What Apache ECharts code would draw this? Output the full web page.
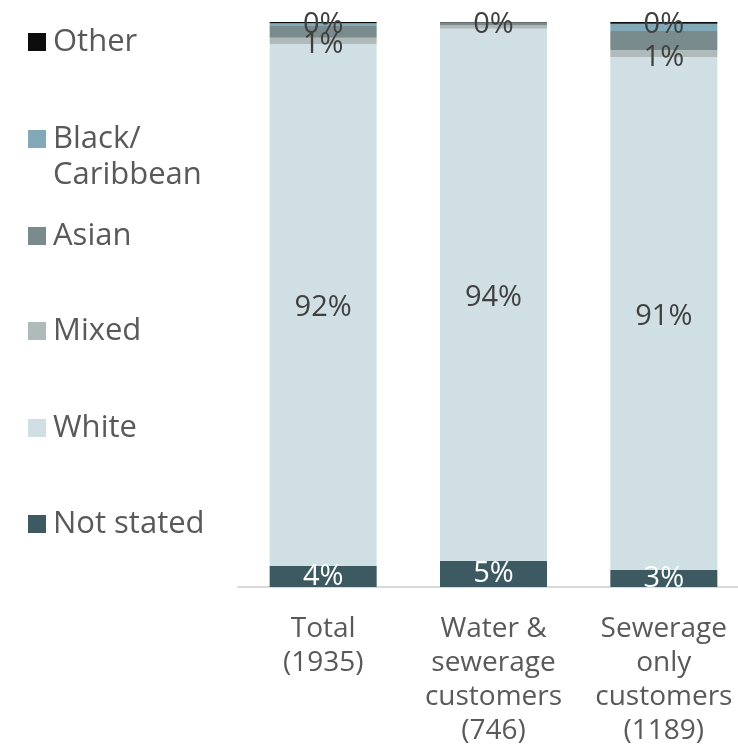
<!DOCTYPE html>
<html>
<head>
<meta charset="utf-8">
<script src="https://cdn.jsdelivr.net/npm/echarts@6/dist/echarts.min.js"></script>
<style>
  html, body { margin: 0; padding: 0; background: #fff; }
  #chart { width: 738px; height: 750px; }
</style>
</head>
<body>
<div id="chart"></div>
<script>
// categories (x axis)
const categories = ['Total\n(1935)', 'Water &\nsewerage\ncustomers\n(746)', 'Sewerage\nonly\ncustomers\n(1189)'];
// series names, legend order top to bottom
const seriesNames = ['Other', 'Black/Caribbean', 'Asian', 'Mixed', 'White', 'Not stated'];
// percent values per category
const notStated = [3.7, 4.6, 3.0];
const white = [92.4, 94.2, 90.8];
const mixed = [1.1, 0.6, 1.2];
const asian = [2.1, 0.5, 3.4];
const blackCaribbean = [0.5, 0.0, 1.3];
const other = [0.2, 0.1, 0.3];
// which data labels show in the original
const mixedLabelShown = [true, false, true];

const colors = {
    'Other': '#0d0d0d',
    'Black/Caribbean': '#82a9b7',
    'Asian': '#7a8b8d',
    'Mixed': '#afbbbb',
    'White': '#d0dfe4',
    'Not stated': '#3d5a63'
};
const FONT = '"Open Sans", sans-serif';
const TXT = '#595959';

const chart = echarts.init(document.getElementById('chart'));

function pct(p) {
    return Math.round(p.value) + '%';
}

function makeSeries(name, data, label) {
    return {
        name: name,
        type: 'bar',
        stack: 'total',
        barWidth: 107,
        data: data,
        itemStyle: { color: colors[name] },
        label: Object.assign({
            show: false,
            position: 'inside',
            fontFamily: FONT,
            fontSize: 29,
            color: '#404040',
            formatter: pct
        }, label || {})
    };
}

const series = [
    makeSeries('Not stated', notStated, { show: true, color: '#ffffff' }),
    makeSeries('White', white, { show: true, offset: [0, 3] }),
    makeSeries('Mixed', mixed.map((v, i) => ({ value: v, label: { show: mixedLabelShown[i] } })), { offset: [0, 4] }),
    makeSeries('Asian', asian),
    makeSeries('Black/Caribbean', blackCaribbean),
    makeSeries('Other', other, { show: true, offset: [0, 2] })
];

// one legend block per entry so the spacing follows the original
const legendTops = [19, 116, 213, 308, 405, 501];
const legends = seriesNames.map((name, i) => {
    // two-line entry: a blank first line keeps the icon level with "Black/"
    const twoLines = name === 'Black/Caribbean';
    return {
        data: [name],
        left: 23,
        top: twoLines ? legendTops[i] - 36 : legendTops[i],
        orient: 'vertical',
        icon: 'rect',
        itemWidth: 18,
        itemHeight: 18,
        selectedMode: false,
        formatter: n => twoLines ? '\n' + n.replace('/', '/\n') : n,
        textStyle: {
            fontFamily: FONT,
            fontSize: 31,
            color: TXT,
            lineHeight: 36,
            padding: [0, 0, 0, 2]
        }
    };
});

chart.setOption({
    animation: false,
    legend: legends,
    grid: {
        left: 238,
        width: 511,
        top: 22,
        bottom: 163,
        outerBoundsMode: 'none'
    },
    xAxis: {
        type: 'category',
        data: categories,
        axisLine: { lineStyle: { color: '#d9d9d9', width: 2 } },
        axisTick: { show: false },
        axisLabel: {
            margin: 25,
            interval: 0,
            fontFamily: FONT,
            fontSize: 28,
            lineHeight: 34,
            color: TXT
        }
    },
    yAxis: {
        type: 'value',
        min: 0,
        max: 100,
        show: false,
        splitLine: { show: false }
    },
    series: series
});
</script>
</body>
</html>
